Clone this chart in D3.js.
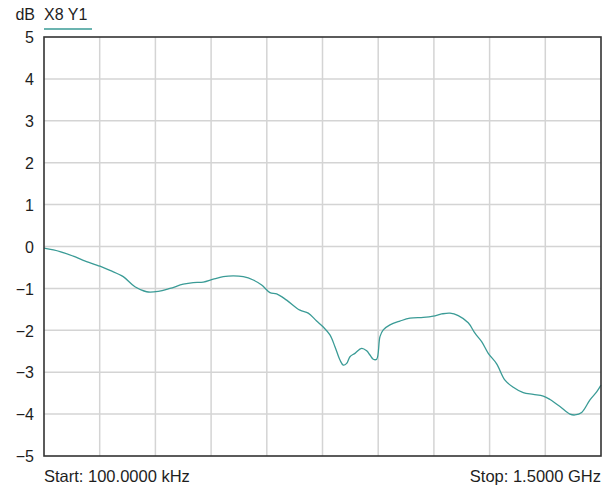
<!DOCTYPE html>
<html>
<head>
<meta charset="utf-8">
<script src="https://cdn.jsdelivr.net/npm/d3@7"></script>
<style>
  html, body { margin: 0; padding: 0; background: #ffffff; }
  svg { display: block; font-family: "Liberation Sans", Arial, sans-serif; }
</style>
</head>
<body>
<svg id="chart" width="613" height="490"></svg>
<script>
// Trace X8 Y1: frequency (MHz) and magnitude (dB)
const freqMHz = [
  0.1, 43.1, 78.9, 105.8, 150.8, 177.7, 213.5, 245.0, 276.5, 307.8,
  339.3, 375.1, 402.0, 429.0, 455.9, 482.8, 509.7, 536.7, 563.6, 586.2,
  608.6, 626.6, 653.5, 689.4, 711.7, 734.3, 752.1, 770.1, 783.6, 797.1,
  806.0, 815.1, 824.0, 837.5, 855.5, 869.0, 877.9, 886.8, 895.9, 904.8,
  913.7, 931.7, 958.6, 985.6, 1021.4, 1048.3, 1071.0, 1093.3, 1115.6, 1142.5,
  1160.6, 1178.6, 1196.4, 1219.0, 1241.4, 1263.8, 1290.7, 1317.6, 1344.5, 1362.6,
  1389.5, 1416.4, 1429.9, 1448.0, 1470.3, 1488.3, 1500.0
];
const magDB = [
  -0.04, -0.12, -0.23, -0.33, -0.47, -0.57, -0.72, -0.96, -1.08, -1.07,
  -1.00, -0.90, -0.86, -0.85, -0.78, -0.72, -0.70, -0.72, -0.80, -0.92,
  -1.10, -1.13, -1.28, -1.52, -1.59, -1.78, -1.92, -2.11, -2.39, -2.71,
  -2.83, -2.79, -2.63, -2.55, -2.43, -2.49, -2.59, -2.69, -2.69, -2.15,
  -1.99, -1.87, -1.78, -1.71, -1.69, -1.66, -1.61, -1.59, -1.65, -1.82,
  -2.07, -2.27, -2.55, -2.80, -3.19, -3.36, -3.49, -3.53, -3.57, -3.65,
  -3.82, -4.00, -4.02, -3.96, -3.66, -3.47, -3.31
];

const yTicks = [5, 4, 3, 2, 1, 0, -1, -2, -3, -4, -5];
const xDivisions = 10;
const startLabel = "Start: 100.0000 kHz";
const stopLabel = "Stop: 1.5000 GHz";
const unitLabel = "dB";
const traceName = "X8 Y1";

const traceColor = "#3a9b96";
const gridColor = "#d4d4d4";
const frameColor = "#333333";
const textColor = "#1e1e1e";

const plot = { left: 44, top: 37, right: 601, bottom: 456 };

const svg = d3.select("#chart");

const x = d3.scaleLinear()
  .domain([freqMHz[0], freqMHz[freqMHz.length - 1]])
  .range([plot.left, plot.right]);
const y = d3.scaleLinear()
  .domain([-5, 5])
  .range([plot.bottom, plot.top]);

// Vertical grid: equal divisions across the sweep
const xStep = (x.domain()[1] - x.domain()[0]) / xDivisions;
const xGrid = d3.range(1, xDivisions).map(i => x.domain()[0] + i * xStep);

const grid = svg.append("g");
grid.selectAll("line.v")
  .data(xGrid)
  .join("line")
  .attr("x1", d => x(d)).attr("x2", d => x(d))
  .attr("y1", plot.top).attr("y2", plot.bottom)
  .attr("stroke", gridColor).attr("stroke-width", 1.5);
grid.selectAll("line.h")
  .data(yTicks.slice(1, -1))
  .join("line")
  .attr("x1", plot.left).attr("x2", plot.right)
  .attr("y1", d => y(d)).attr("y2", d => y(d))
  .attr("stroke", gridColor).attr("stroke-width", 1.5);

// Y axis labels
const yAxis = d3.axisLeft(y)
  .tickValues(yTicks)
  .tickSize(0)
  .tickPadding(10)
  .tickFormat(d3.format("d"));
const yAxisG = svg.append("g")
  .attr("transform", `translate(${plot.left},0)`)
  .call(yAxis);
yAxisG.select(".domain").remove();
yAxisG.selectAll("text")
  .attr("font-size", "16px")
  .attr("font-family", "Liberation Sans, Arial, sans-serif")
  .attr("fill", textColor)
  .attr("dy", "0.36em");

// Trace
const line = d3.line()
  .x((d, i) => x(freqMHz[i]))
  .y(d => y(d))
  .curve(d3.curveCatmullRom.alpha(0.5));

svg.append("path")
  .datum(magDB)
  .attr("d", line)
  .attr("fill", "none")
  .attr("stroke", traceColor)
  .attr("stroke-width", 1.3)
  .attr("stroke-linejoin", "round");

// Frame
svg.append("rect")
  .attr("x", plot.left).attr("y", plot.top)
  .attr("width", plot.right - plot.left)
  .attr("height", plot.bottom - plot.top)
  .attr("fill", "none")
  .attr("stroke", frameColor)
  .attr("stroke-width", 1.6);

// Header: unit and trace legend
svg.append("text")
  .attr("x", 35).attr("y", 20)
  .attr("text-anchor", "end")
  .attr("font-size", "16px")
  .attr("fill", textColor)
  .text(unitLabel);
svg.append("text")
  .attr("x", plot.left).attr("y", 20)
  .attr("font-size", "16px")
  .attr("fill", textColor)
  .text(traceName);
svg.append("line")
  .attr("x1", plot.left).attr("x2", 92)
  .attr("y1", 29).attr("y2", 29)
  .attr("stroke", traceColor)
  .attr("stroke-width", 1.6);

// Sweep range labels
svg.append("text")
  .attr("x", plot.left).attr("y", 482)
  .attr("font-size", "16.5px")
  .attr("fill", textColor)
  .text(startLabel);
svg.append("text")
  .attr("x", plot.right).attr("y", 482)
  .attr("text-anchor", "end")
  .attr("font-size", "16.5px")
  .attr("fill", textColor)
  .text(stopLabel);
</script>
</body>
</html>
